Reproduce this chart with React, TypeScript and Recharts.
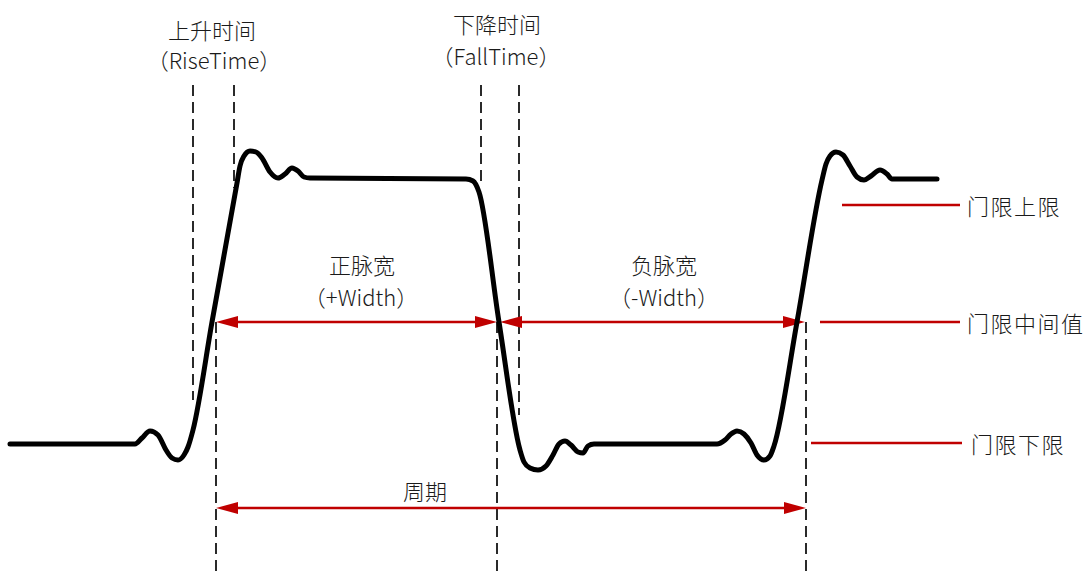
// App.tsx — pulse timing diagram (rise/fall time, pulse widths, period, thresholds)

import {
  ComposedChart,
  Line,
  Scatter,
  ReferenceLine,
  XAxis,
  YAxis,
} from "recharts";

// waveform trace (time, level) — y grows downward like the drawing
const waveX = [
  10, 135, 142, 150, 158, 166, 172, 178, 184, 188, 193, 212, 237, 240, 244, 250,
  256, 262, 270, 278, 285, 292, 298, 304, 310, 466, 473, 479, 499, 520, 524, 530,
  538, 546, 553, 559, 565, 571, 578, 583, 588, 594, 717, 725, 731, 737, 744, 751,
  757, 764, 770, 774, 797, 822, 826, 830, 836, 843, 850, 857, 864, 871, 880, 887,
  892, 900, 937,
];
const waveY = [
  444, 444, 438, 431, 435, 450, 458, 460, 455, 447, 430, 322, 183, 166, 156, 151,
  152, 158, 172, 178, 174, 168, 171, 177, 178, 179, 181, 192, 322, 450, 462, 468,
  470, 466, 455, 444, 441, 445, 452, 453, 446, 444, 444, 440, 434, 431, 434, 443,
  455, 460, 456, 446, 322, 180, 164, 156, 152, 155, 166, 177, 180, 176, 170, 174,
  179, 179, 179,
];

// dashed time markers
const guideX = [193, 234, 481, 519, 216, 497, 806];
const guideTop = [85, 85, 85, 85, 322, 322, 322];
const guideBottom = [400, 188, 183, 415, 571, 571, 571];

// threshold levels
const thresholdY = [205, 322, 443];
const thresholdFrom = [842, 820, 811];
const thresholdTo = [960, 960, 962];
const thresholdNames = ["门限上限", "门限中间值", "门限下限"];
const thresholdLabelX = [967, 967, 971];

// double-headed measurement arrows
const arrowFrom = [216, 500, 216];
const arrowTo = [497, 805, 806];
const arrowY = [322, 322, 508];

// annotations
const noteText = [
  "上升时间",
  "（RiseTime）",
  "下降时间",
  "（FallTime）",
  "正脉宽",
  "（+Width）",
  "负脉宽",
  "（-Width）",
  "周期",
];
const noteX = [212, 214, 497, 496, 362, 361, 664, 664, 425];
const noteY = [29, 59, 23, 55, 264, 296, 264, 296, 490];

const RED = "#c00000";
const FONT = '"Noto Sans CJK SC", "Noto Sans", sans-serif';

const waveData = waveX.map((x, i) => ({ x, y: waveY[i] }));
const noteData = noteText.map((text, i) => ({ x: noteX[i], y: noteY[i], text }));
const sideData = thresholdNames.map((text, i) => ({
  x: thresholdLabelX[i],
  y: thresholdY[i],
  text,
}));

const ArrowLine = (props: any) => {
  const { x1, y1, x2, y2 } = props;
  const len = 22;
  const half = 6;
  const lo = Math.min(x1, x2);
  const hi = Math.max(x1, x2);
  const y = y1;
  return (
    <g>
      <line x1={lo + 10} y1={y} x2={hi - 10} y2={y2} stroke={RED} strokeWidth={2.5} />
      <polygon
        points={`${lo},${y} ${lo + len},${y - half} ${lo + len},${y + half}`}
        fill={RED}
      />
      <polygon
        points={`${hi},${y} ${hi - len},${y - half} ${hi - len},${y + half}`}
        fill={RED}
      />
    </g>
  );
};

const CenterText = (props: any) => {
  const { cx, cy, payload } = props;
  if (cx == null || cy == null) return null;
  return (
    <text
      x={cx}
      y={cy}
      textAnchor="middle"
      dominantBaseline="central"
      fontFamily={FONT}
      fontSize={22}
      fontWeight={300}
      fill="#1a1a1a"
    >
      {payload.text}
    </text>
  );
};

const SideText = (props: any) => {
  const { cx, cy, payload } = props;
  if (cx == null || cy == null) return null;
  return (
    <text
      x={cx}
      y={cy}
      textAnchor="start"
      dominantBaseline="central"
      fontFamily={FONT}
      fontSize={22}
      fontWeight={300}
      fill="#1a1a1a"
      letterSpacing={1.5}
    >
      {payload.text}
    </text>
  );
};

export default function App() {
  return (
    <div
      style={{
        position: "absolute",
        left: 0,
        top: 0,
        width: 1088,
        height: 571,
        background: "#fff",
      }}
    >
      <ComposedChart
        width={1088}
        height={571}
        margin={{ top: 0, right: 0, bottom: 0, left: 0 }}
      >
        <XAxis type="number" dataKey="x" domain={[0, 1088]} hide allowDataOverflow />
        <YAxis type="number" dataKey="y" domain={[0, 571]} reversed hide allowDataOverflow />

        {/* dashed time markers */}
        {guideX.map((x, i) => (
          <ReferenceLine
            key={`g${i}`}
            segment={[
              { x, y: guideTop[i] },
              { x, y: guideBottom[i] },
            ]}
            stroke="#2a2a2a"
            strokeWidth={2}
            strokeDasharray="11 6"
            ifOverflow="visible"
          />
        ))}

        {/* threshold levels */}
        {thresholdY.map((y, i) => (
          <ReferenceLine
            key={`t${i}`}
            segment={[
              { x: thresholdFrom[i], y },
              { x: thresholdTo[i], y },
            ]}
            stroke={RED}
            strokeWidth={2.5}
            ifOverflow="visible"
          />
        ))}

        {/* measurement arrows */}
        {arrowY.map((y, i) => (
          <ReferenceLine
            key={`a${i}`}
            segment={[
              { x: arrowFrom[i], y },
              { x: arrowTo[i], y },
            ]}
            shape={ArrowLine}
            ifOverflow="visible"
          />
        ))}

        <Line
          data={waveData}
          dataKey="y"
          type="monotone"
          stroke="#000"
          strokeWidth={5}
          strokeLinejoin="round"
          strokeLinecap="round"
          dot={false}
          activeDot={false}
          isAnimationActive={false}
        />

        <Scatter data={noteData} dataKey="y" shape={CenterText} isAnimationActive={false} />
        <Scatter data={sideData} dataKey="y" shape={SideText} isAnimationActive={false} />
      </ComposedChart>
    </div>
  );
}
